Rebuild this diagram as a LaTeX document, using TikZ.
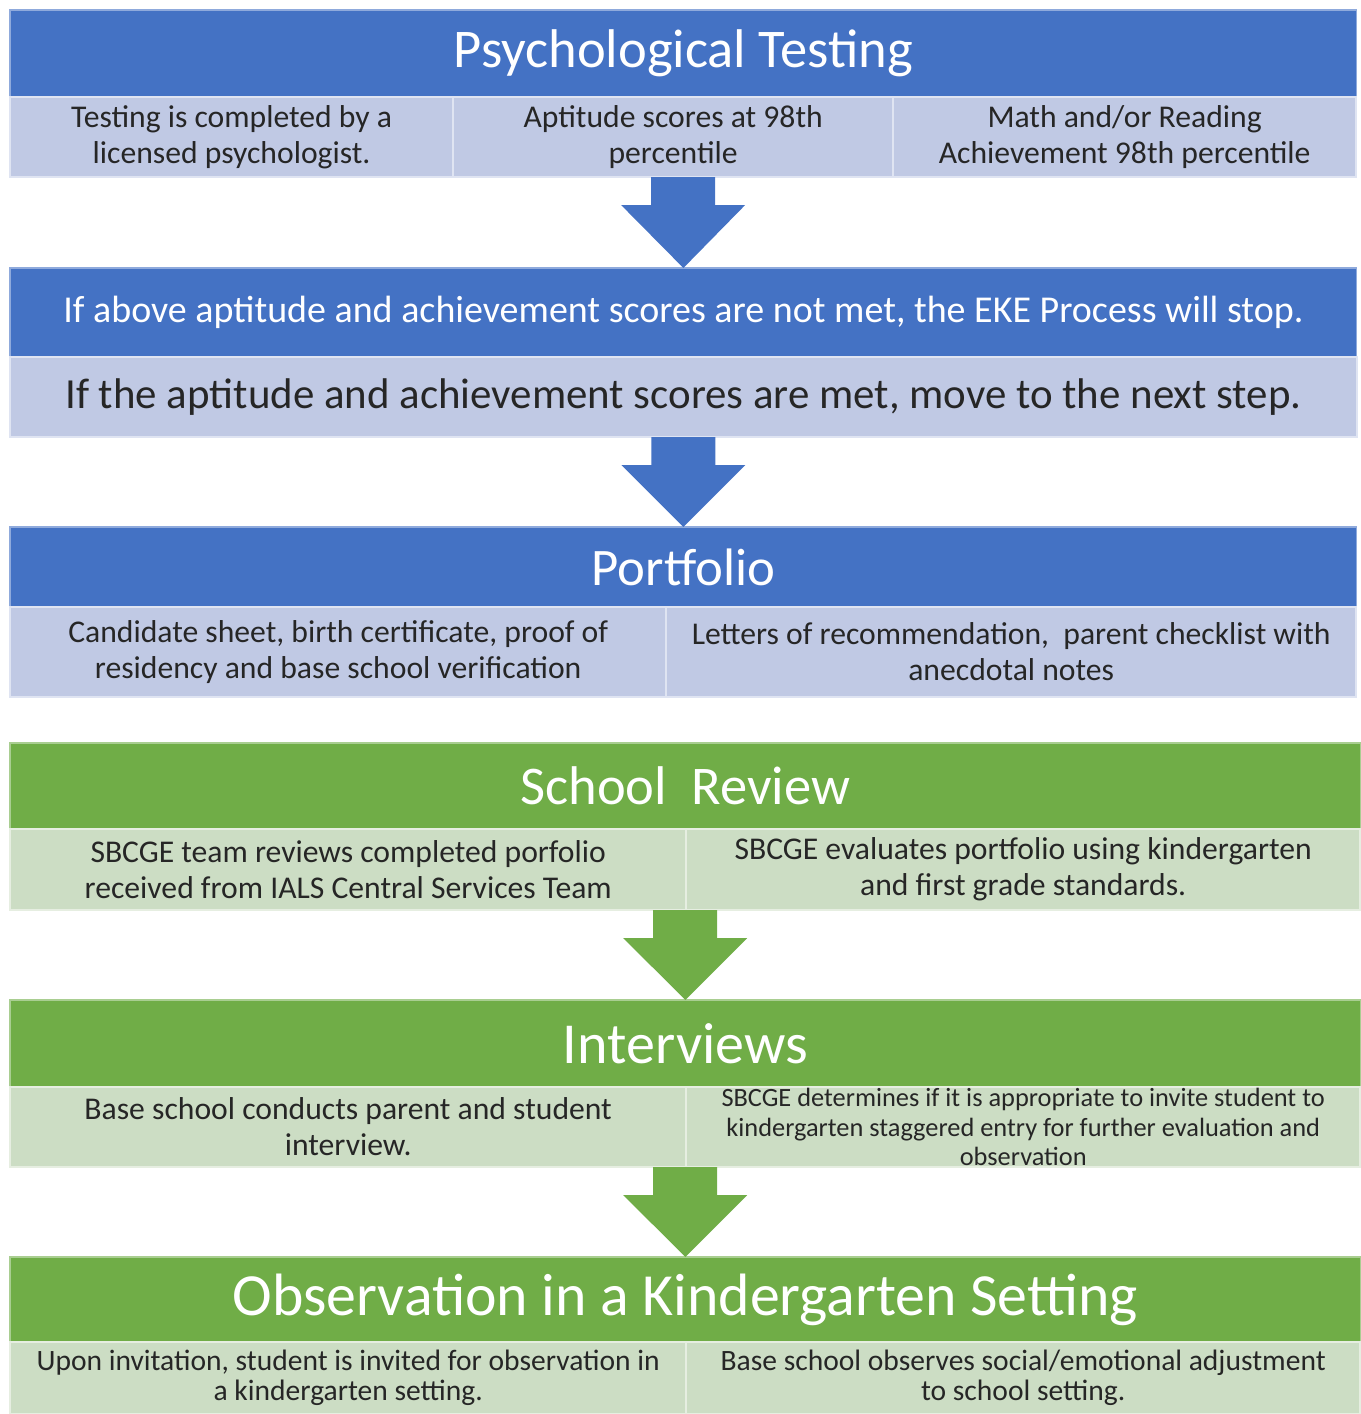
\documentclass[tikz,border=0pt]{standalone}
\usepackage{fontspec}
\setmainfont{Carlito}
\usepackage{tikz}
\usetikzlibrary{calc}
\usetikzlibrary{positioning}

\definecolor{headblue}{HTML}{4472C4}
\definecolor{cellblue}{HTML}{C0C9E4}
\definecolor{headgreen}{HTML}{70AD47}
\definecolor{cellgreen}{HTML}{CCDDC4}

\begin{document}
\begin{tikzpicture}[x=0.01cm, y=-0.01cm,
		head/.style={anchor=north west, inner sep=0pt, outer sep=0pt, text=white, align=center},
		bluehead/.style={head, fill=headblue, draw=headblue!60!white, line width=0.3pt},
		greenhead/.style={head, fill=headgreen, draw=headgreen!60!white, line width=0.3pt},
		cell/.style={anchor=north west, inner sep=0pt, outer sep=0pt, align=center, text=black!85, line width=0.6pt},
		bluecell/.style={cell, fill=cellblue, draw=cellblue!50!white},
		greencell/.style={cell, fill=cellgreen, draw=cellgreen!50!white}]
				\useasboundingbox (0,0) rectangle (1361,1414);
				
				% psychological testing
				\node[bluehead, minimum width=13.46cm, minimum height=0.87cm, font=\fontsize{15.5}{18}\selectfont] (h1) at (10,10) {Psychological Testing};
				\node[bluecell, minimum width=4.43cm, minimum height=0.8cm, font=\fontsize{9}{10.2}\selectfont] (c11) at (10,97) {Testing is completed by a\\ licensed psychologist.};
				\node[bluecell, minimum width=4.40cm, minimum height=0.8cm, font=\fontsize{9}{10.2}\selectfont] (c12) at (453,97) {Aptitude scores at 98th\\ percentile};
				\node[bluecell, minimum width=4.63cm, minimum height=0.8cm, font=\fontsize{9}{10.2}\selectfont] (c13) at (893,97) {Math and/or Reading\\ Achievement 98th percentile};
				\coordinate (r1) at ($(c11.south west)!0.5!(c13.south east)$);
				
				% scores
				\node[bluehead, minimum width=13.46cm, minimum height=0.89cm, font=\fontsize{10.8}{12}\selectfont] (h2) at (10,268) {If above aptitude and achievement scores are not met, the EKE Process will stop.};
				\node[bluecell, minimum width=13.46cm, minimum height=0.8cm, font=\fontsize{12.2}{14}\selectfont] (c21) at (10,357) {If the aptitude and achievement scores are met, move to the next step.};
				
				% portfolio
				\node[bluehead, minimum width=13.46cm, minimum height=0.8cm, font=\fontsize{15}{18}\selectfont] (h3) at (10,527) {Portfolio};
				\node[bluecell, minimum width=6.56cm, minimum height=0.9cm, font=\fontsize{9}{10.2}\selectfont] (c31) at (10,607) {Candidate sheet, birth certificate, proof of\\ residency and base school verification};
				\node[bluecell, minimum width=6.90cm, minimum height=0.9cm, font=\fontsize{9}{10.2}\selectfont] (c32) at (666,607) {Letters of recommendation,\ \ parent checklist with\\ anecdotal notes};
				
				% school review
				\node[greenhead, minimum width=13.50cm, minimum height=0.86cm, font=\fontsize{15.5}{18}\selectfont] (h4) at (10,743) {School\ \ Review};
				\node[greencell, minimum width=6.76cm, minimum height=0.81cm, font=\fontsize{9}{10.2}\selectfont] (c41) at (10,829) {SBCGE team reviews completed porfolio\\ received from IALS Central Services Team};
				\node[greencell, minimum width=6.74cm, minimum height=0.81cm, font=\fontsize{9}{10.2}\selectfont] (c42) at (686,829) {SBCGE evaluates portfolio using kindergarten\\ and first grade standards.};
				\coordinate (r4) at ($(c41.south west)!0.5!(c42.south east)$);
				
				% interviews
				\node[greenhead, minimum width=13.50cm, minimum height=0.87cm, font=\fontsize{16.5}{19}\selectfont] (h5) at (10,1000) {Interviews};
				\node[greencell, minimum width=6.76cm, minimum height=0.8cm, font=\fontsize{9}{10.2}\selectfont] (c51) at (10,1087) {Base school conducts parent and student\\ interview.};
				\node[greencell, minimum width=6.74cm, minimum height=0.8cm, font=\fontsize{7.5}{8.5}\selectfont] (c52) at (686,1087) {SBCGE determines if it is appropriate to invite student to\\ kindergarten staggered entry for further evaluation and\\ observation};
				\coordinate (r5) at ($(c51.south west)!0.5!(c52.south east)$);
				
				% observation
				\node[greenhead, minimum width=13.50cm, minimum height=0.85cm, font=\fontsize{17}{20}\selectfont] (h6) at (10,1257) {Observation in a Kindergarten Setting};
				\node[greencell, minimum width=6.76cm, minimum height=0.72cm, font=\fontsize{8.4}{8.6}\selectfont] (c61) at (10,1342) {Upon invitation, student is invited for observation in\\ a kindergarten setting.};
				\node[greencell, minimum width=6.74cm, minimum height=0.72cm, font=\fontsize{8.4}{8.6}\selectfont] (c62) at (686,1342) {Base school observes social/emotional adjustment\\ to school setting.};
				
				% arrows
				\fill[headblue] ($(r1)+(-32,0)$) -- ($(r1)+(-32,28)$) -- ($(r1)+(-62,28)$) -- (h2.north) -- ($(r1)+(62,28)$) -- ($(r1)+(32,28)$) -- ($(r1)+(32,0)$) -- cycle;
				\fill[headblue] ($(c21.south)+(-32,0)$) -- ($(c21.south)+(-32,28)$) -- ($(c21.south)+(-62,28)$) -- (h3.north) -- ($(c21.south)+(62,28)$) -- ($(c21.south)+(32,28)$) -- ($(c21.south)+(32,0)$) -- cycle;
				\fill[headgreen] ($(r4)+(-32,0)$) -- ($(r4)+(-32,28)$) -- ($(r4)+(-62,28)$) -- (h5.north) -- ($(r4)+(62,28)$) -- ($(r4)+(32,28)$) -- ($(r4)+(32,0)$) -- cycle;
				\fill[headgreen] ($(r5)+(-32,0)$) -- ($(r5)+(-32,28)$) -- ($(r5)+(-62,28)$) -- (h6.north) -- ($(r5)+(62,28)$) -- ($(r5)+(32,28)$) -- ($(r5)+(32,0)$) -- cycle;
			\end{tikzpicture}
\end{document}
